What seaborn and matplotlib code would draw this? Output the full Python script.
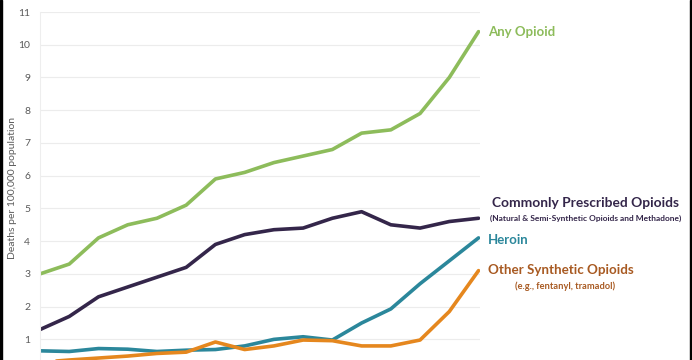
import numpy as np
import pandas as pd
import seaborn as sns
import matplotlib
matplotlib.use("Agg")
import matplotlib.pyplot as plt
from matplotlib.patches import Rectangle

# %% data (deaths per 100,000 population)
years = list(range(2000, 2016))
any_opioid = [3.0, 3.3, 4.1, 4.5, 4.7, 5.1, 5.9, 6.1, 6.4, 6.6, 6.8, 7.3, 7.4, 7.9, 9.0, 10.4]
prescribed = [1.3, 1.7, 2.3, 2.6, 2.9, 3.2, 3.9, 4.2, 4.35, 4.4, 4.7, 4.9, 4.5, 4.4, 4.6, 4.7]
heroin = [0.65, 0.63, 0.72, 0.7, 0.63, 0.67, 0.69, 0.8, 1.0, 1.08, 0.98, 1.5, 1.93, 2.7, 3.4, 4.1]
synthetic = [0.3, 0.37, 0.43, 0.49, 0.57, 0.61, 0.92, 0.69, 0.8, 0.98, 0.96, 0.8, 0.8, 0.98, 1.85, 3.1]

series_names = ["Any Opioid", "Commonly Prescribed Opioids", "Heroin", "Other Synthetic Opioids"]
colors = ["#8dbc5b", "#34264a", "#2b879b", "#e5871e"]
text_colors = ["#8dbc5b", "#34264a", "#2b879b", "#a85a22"]

df = pd.DataFrame({"year": years, series_names[0]: any_opioid, series_names[1]: prescribed,
                   series_names[2]: heroin, series_names[3]: synthetic})
df = df.melt(id_vars="year", var_name="series", value_name="rate")

# %% plot
sns.set_style("white")
plt.rcParams["font.family"] = ["Lato", "DejaVu Sans"]

fig = plt.figure(figsize=(6.92, 3.6), dpi=100)
ax = fig.add_axes([40 / 692, 0, 440 / 692, 348 / 360])

sns.lineplot(data=df, x="year", y="rate", hue="series", hue_order=series_names,
             palette=colors, linewidth=2.6, legend=False, ax=ax)

ax.set_xlim(2000, 2015.05)
ax.set_ylim(0.37, 11)
ax.set_yticks(np.arange(1, 12))
ax.set_xticks([])
ax.grid(axis="y", color="#ececec", linewidth=0.8)
ax.set_axisbelow(True)
for side in ["top", "right", "bottom"]:
    ax.spines[side].set_visible(False)
ax.spines["left"].set_color("#eeeeee")
ax.tick_params(axis="y", labelsize=7.5, labelcolor="#5a5a5a", length=0, pad=7)
ax.set_xlabel("")
ax.set_ylabel("Deaths per 100,000 population", fontsize=7.5, color="#5a5a5a")
ax.yaxis.set_label_coords(-0.052, 0.494)

# labels at line ends
def fx(px):
    return px / 692

def fy(py):
    return 1 - py / 360

fig.text(fx(488), fy(32), "Any Opioid", color=text_colors[0], fontsize=9.5,
         fontweight="bold", va="center", ha="left")
fig.text(fx(586), fy(203), "Commonly Prescribed Opioids", color=text_colors[1], fontsize=9.9,
         fontweight="bold", va="center", ha="center")
fig.text(fx(586), fy(218), "(Natural & Semi-Synthetic Opioids and Methadone)", color=text_colors[1],
         fontsize=6.0, fontweight="bold", va="center", ha="center")
fig.text(fx(488), fy(240), "Heroin", color=text_colors[2], fontsize=9.5,
         fontweight="bold", va="center", ha="left")
fig.text(fx(488), fy(270), "Other Synthetic Opioids", color=text_colors[3], fontsize=9.6,
         fontweight="bold", va="center", ha="left")
fig.text(fx(565), fy(286), "(e.g., fentanyl, tramadol)", color=text_colors[3], fontsize=6.7,
         fontweight="bold", va="center", ha="center")

# dark frame edges of the screenshot
fig.patches.append(Rectangle((0, 0), 2 / 692, 1, transform=fig.transFigure, color="black", zorder=10))
fig.patches.append(Rectangle((690 / 692, 0), 2 / 692, 1, transform=fig.transFigure, color="black", zorder=10))

fig.savefig("out.png", dpi=100)
